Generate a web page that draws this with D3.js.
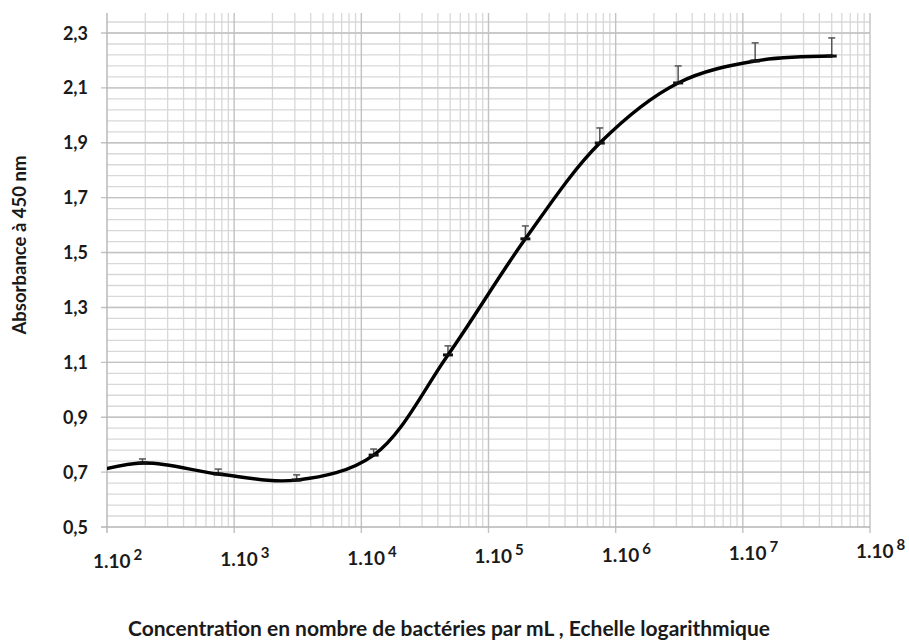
<!DOCTYPE html>
<html>
<head>
<meta charset="utf-8">
<script src="https://cdn.jsdelivr.net/npm/d3@7"></script>
<style>
  html, body { margin: 0; padding: 0; background: #fff; }
  svg { display: block; font-family: Lato, "Open Sans", sans-serif; }
</style>
</head>
<body>
<div id="canvas"></div>
<script>
// bacteria per mL (4-fold dilutions), first one lies left of the plot
var concentrations = [48, 190, 750, 3100, 12500, 48000, 195000, 750000, 3100000, 12500000, 50000000];
var absorbance     = [0.675, 0.733, 0.693, 0.671, 0.762, 1.127, 1.550, 1.899, 2.118, 2.198, 2.216];
var errorPlus      = [0.000, 0.015, 0.018, 0.019, 0.022, 0.033, 0.047, 0.055, 0.062, 0.066, 0.066];

var yTicks = [0.5, 0.7, 0.9, 1.1, 1.3, 1.5, 1.7, 1.9, 2.1, 2.3];
var xDecades = [2, 3, 4, 5, 6, 7, 8];

var yTitle = 'Absorbance à 450 nm';
var xTitle = 'Concentration en nombre de bactéries par mL , Echelle logarithmique';

var width = 909, height = 644;
// plot box (don't use "top" as a global, it is window.top)
var box = { left: 107, right: 870, bottom: 527, top: 13 };

var x = d3.scaleLog().domain([1e2, 1e8]).range([box.left, box.right]);
var y = d3.scaleLinear().domain([0.5, 2.3]).range([box.bottom, 33]);

var svg = d3.select('#canvas').append('svg')
  .attr('width', width)
  .attr('height', height);

svg.append('defs').append('clipPath').attr('id', 'plotClip')
  .append('rect')
  .attr('x', box.left).attr('y', box.top)
  .attr('width', box.right - box.left).attr('height', box.bottom - box.top);

// horizontal grid: minor every 0.04, major every 0.2
var yMinor = d3.range(0.54, y.invert(box.top) + 0.001, 0.04);
svg.append('g').selectAll('line')
  .data(yMinor)
  .enter().append('line')
  .attr('x1', box.left).attr('x2', box.right)
  .attr('y1', d => y(d)).attr('y2', d => y(d))
  .attr('stroke', '#d8d8d8').attr('stroke-width', 1.3);

// vertical grid: log minors
var xMinor = [];
xDecades.slice(0, -1).forEach(e => {
  for (var m = 2; m <= 9; m++) xMinor.push(m * Math.pow(10, e));
});
svg.append('g').selectAll('line')
  .data(xMinor)
  .enter().append('line')
  .attr('x1', d => x(d)).attr('x2', d => x(d))
  .attr('y1', box.top).attr('y2', box.bottom)
  .attr('stroke', '#d8d8d8').attr('stroke-width', 1.3);

// major grid lines
svg.append('g').selectAll('line')
  .data(yTicks.slice(1))
  .enter().append('line')
  .attr('x1', box.left - 6).attr('x2', box.right)
  .attr('y1', d => y(d)).attr('y2', d => y(d))
  .attr('stroke', '#c2c2c2').attr('stroke-width', 1.4);

svg.append('g').selectAll('line')
  .data(xDecades.slice(1))
  .enter().append('line')
  .attr('x1', d => x(Math.pow(10, d))).attr('x2', d => x(Math.pow(10, d)))
  .attr('y1', box.top).attr('y2', box.bottom + 6)
  .attr('stroke', '#c2c2c2').attr('stroke-width', 1.4);

// axes lines
svg.append('line')
  .attr('x1', box.left).attr('x2', box.left).attr('y1', box.top).attr('y2', box.bottom + 6)
  .attr('stroke', '#b5b5b5').attr('stroke-width', 1.4);
svg.append('line')
  .attr('x1', box.left - 6).attr('x2', box.right).attr('y1', box.bottom).attr('y2', box.bottom)
  .attr('stroke', '#b5b5b5').attr('stroke-width', 1.4);

// y tick labels
svg.append('g').selectAll('text')
  .data(yTicks)
  .enter().append('text')
  .attr('x', 88)
  .attr('y', d => y(d) + 6.5)
  .attr('text-anchor', 'end')
  .style('font-size', '18px').style('font-weight', 'bold').style('fill', '#1a1a1a')
  .text(d => d.toFixed(1).replace('.', ','));

// x tick labels: 1.10^n (baseline drifts a little up to the right, as in the source)
var xl = svg.append('g').selectAll('text')
  .data(xDecades)
  .enter().append('text')
  .attr('x', d => x(Math.pow(10, d)) - 14)
  .attr('y', (d, i) => 568 - i * 1.6)
  .style('font-size', '19px').style('font-weight', 'bold').style('fill', '#1a1a1a');
xl.append('tspan').text('1.10');
xl.append('tspan')
  .attr('dx', 3).attr('dy', -8)
  .style('font-size', '15px')
  .text(d => d);

// axis titles
svg.append('text')
  .attr('transform', 'translate(26,245) rotate(-90)')
  .attr('text-anchor', 'middle')
  .style('font-size', '18.5px').style('font-weight', 'bold').style('fill', '#1a1a1a')
  .text(yTitle);

svg.append('text')
  .attr('x', 449).attr('y', 636)
  .attr('text-anchor', 'middle')
  .style('font-size', '21px').style('font-weight', 'bold').style('fill', '#1a1a1a')
  .text(xTitle);

var data = concentrations.map((c, i) => ({c: c, a: absorbance[i], e: errorPlus[i]}));
var shown = data.filter(d => d.c >= 1e2);

// error bars (upper only visible)
var eb = svg.append('g').attr('clip-path', 'url(#plotClip)');
eb.selectAll('line.bar')
  .data(shown)
  .enter().append('line')
  .attr('class', 'bar')
  .attr('x1', d => x(d.c)).attr('x2', d => x(d.c))
  .attr('y1', d => y(d.a)).attr('y2', d => y(d.a + d.e))
  .attr('stroke', '#555').attr('stroke-width', 1.5);
eb.selectAll('line.cap')
  .data(shown)
  .enter().append('line')
  .attr('class', 'cap')
  .attr('x1', d => x(d.c) - 3.5).attr('x2', d => x(d.c) + 3.5)
  .attr('y1', d => y(d.a + d.e)).attr('y2', d => y(d.a + d.e))
  .attr('stroke', '#555').attr('stroke-width', 1.5);

// smoothed curve
var line = d3.line()
  .x(d => x(d.c))
  .y(d => y(d.a))
  .curve(d3.curveCatmullRom.alpha(0.5));

svg.append('path')
  .datum(data)
  .attr('clip-path', 'url(#plotClip)')
  .attr('d', line)
  .attr('fill', 'none')
  .attr('stroke', '#000')
  .attr('stroke-width', 3.4)
  .attr('stroke-linecap', 'round');

// dash markers
svg.append('g').selectAll('line')
  .data(shown)
  .enter().append('line')
  .attr('x1', d => x(d.c) - 5).attr('x2', d => x(d.c) + 5)
  .attr('y1', d => y(d.a)).attr('y2', d => y(d.a))
  .attr('stroke', '#111').attr('stroke-width', 3);
</script>
</body>
</html>
